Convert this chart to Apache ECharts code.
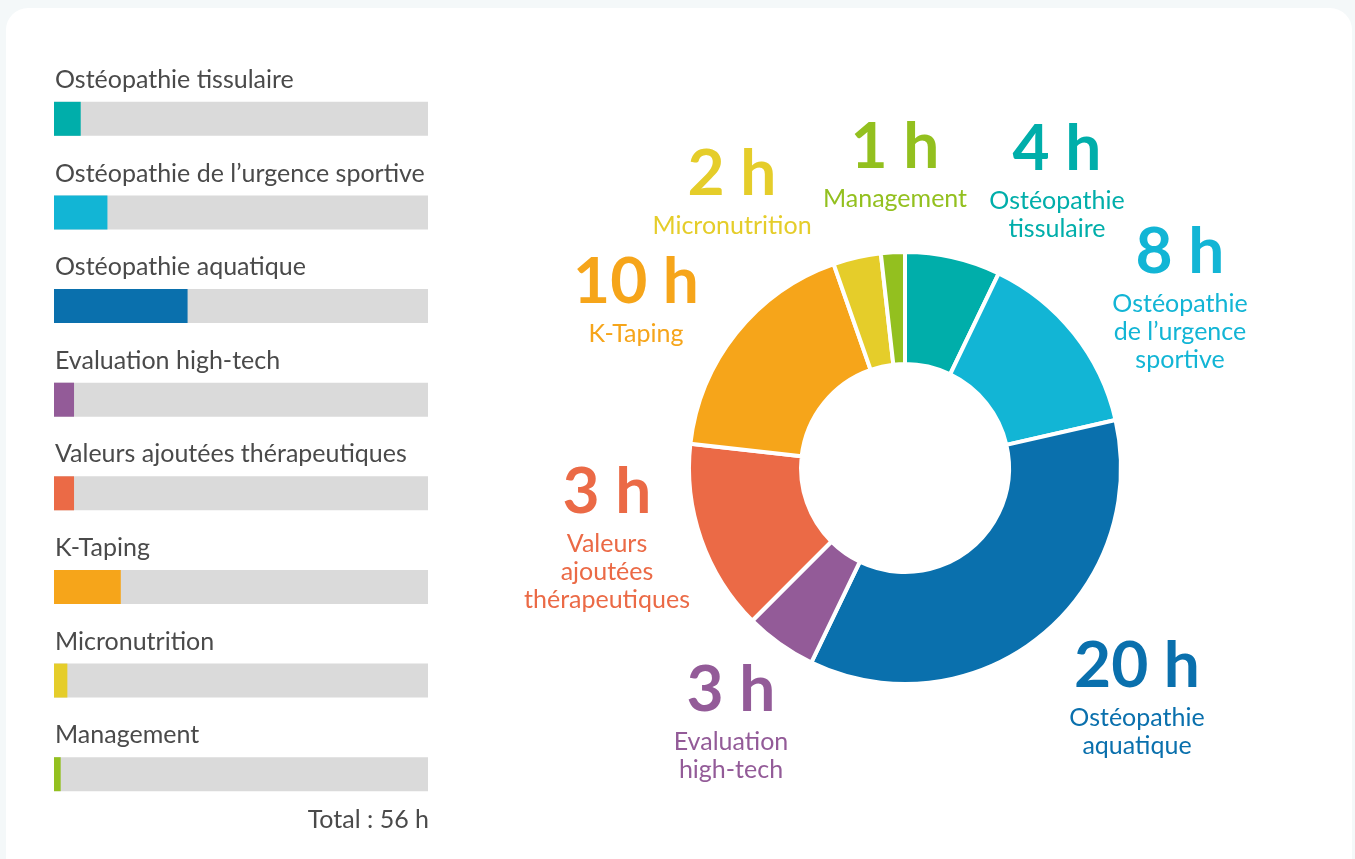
<!DOCTYPE html>
<html>
<head>
<meta charset="utf-8">
<script src="https://cdn.jsdelivr.net/npm/echarts@6/dist/echarts.min.js"></script>
<style>
  html, body { margin: 0; padding: 0; width: 1355px; height: 859px; background: #f4f8f9; overflow: hidden; }
  #card { position: absolute; left: 6px; top: 8px; width: 1346px; height: 880px; background: #ffffff; border-radius: 22px; }
  #chart { position: absolute; left: 0; top: 0; width: 1355px; height: 859px; }
</style>
</head>
<body>
<div id="card"></div>
<div id="chart"></div>
<script>
// ---- data ----
const categories = ['Ostéopathie tissulaire', 'Ostéopathie de l’urgence sportive', 'Ostéopathie aquatique', 'Evaluation high-tech', 'Valeurs ajoutées thérapeutiques', 'K-Taping', 'Micronutrition', 'Management'];
const hours = [4, 8, 20, 3, 3, 10, 2, 1];            // hours shown in labels and left bars
const donutValues = [4, 8, 20, 3, 8, 10, 2, 1];      // slice sizes as drawn in the donut
const donutNames = ['Ostéopathie\ntissulaire', 'Ostéopathie\nde l’urgence\nsportive', 'Ostéopathie\naquatique', 'Evaluation\nhigh-tech', 'Valeurs\najoutées\nthérapeutiques', 'K-Taping', 'Micronutrition', 'Management'];
const total = donutValues.reduce((a, b) => a + b, 0);

// ---- styles ----
const colors = ['#00aeaa', '#12b5d5', '#0a70ad', '#935b98', '#eb6a46', '#f6a51a', '#e5cd2a', '#93c01f'];
const pieCenter = [905, 468];
const labelOffsets = [[152, -321], [275, -218], [232, 196], [-174, 220], [-298, 22], [-269, -188], [-173, -296], [-10, -323]];

const chart = echarts.init(document.getElementById('chart'), null, { renderer: 'canvas' });

chart.setOption({
  animation: false,
  title: {
    text: 'Total : ' + total + ' h',
    right: 1355 - 429,
    top: 807,
    padding: 0,
    textStyle: { fontFamily: 'Lato', fontSize: 25, fontWeight: 'normal', color: '#4a4a4a' }
  },
  grid: { left: 54, width: 374, top: 72, height: 749, containLabel: false },
  xAxis: { type: 'value', min: 0, max: total, show: false },
  yAxis: { type: 'category', inverse: true, data: categories, show: false },
  series: [
    {
      type: 'bar',
      barWidth: 34,
      data: hours.map((v, i) => ({ value: v, itemStyle: { color: colors[i] } })),
      showBackground: true,
      backgroundStyle: { color: '#dadada' },
      label: {
        show: true,
        position: [1, -22],
        align: 'left',
        verticalAlign: 'middle',
        formatter: '{b}',
        fontFamily: 'Lato',
        fontSize: 25,
        color: '#4a4a4a'
      }
    },
    {
      type: 'pie',
      center: pieCenter,
      radius: [104, 216],
      startAngle: 90,
      clockwise: true,
      itemStyle: { borderColor: '#ffffff', borderWidth: 4 },
      labelLine: { show: false },
      data: donutValues.map((v, i) => ({
        value: v,
        name: donutNames[i],
        itemStyle: { color: colors[i] },
        label: {
          color: colors[i],
          formatter: () => '{n|' + hours[i] + ' h}\n{t|' + donutNames[i].split('\n').join('}\n{t|') + '}',
          rich: {
            n: { fontFamily: 'Lato', fontWeight: 700, fontSize: 64, lineHeight: 76, color: colors[i], align: 'center' },
            t: { fontFamily: 'Lato', fontSize: 25, lineHeight: 28, color: colors[i], align: 'center' }
          }
        }
      })),
      label: { show: true, position: 'outside' },
      labelLayout: function (p) {
        const o = labelOffsets[p.dataIndex];
        return { x: pieCenter[0] + o[0], y: pieCenter[1] + o[1] - 36, align: 'center', verticalAlign: 'top' };
      }
    }
  ]
});
</script>
</body>
</html>
